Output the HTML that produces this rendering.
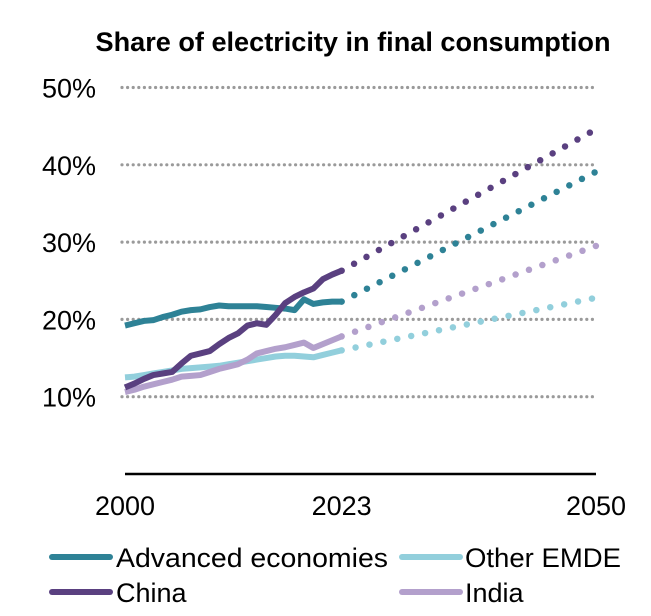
<!DOCTYPE html>
<html><head><meta charset="utf-8"><style>
html,body{margin:0;padding:0;background:#fff;}
svg{display:block;font-family:"Liberation Sans",sans-serif;}
</style></head><body>
<svg width="651" height="616" viewBox="0 0 651 616">
<text x="353" y="51" text-anchor="middle" font-size="26.5" font-weight="bold" fill="#000" textLength="515" lengthAdjust="spacingAndGlyphs">Share of electricity in final consumption</text>
<g id="grid"></g>
<g id="yticks"></g>
<line x1="125" y1="474" x2="596" y2="474" stroke="#000" stroke-width="2.5"/>
<g id="xticks"></g>
<g id="series"></g>
<g font-size="27" fill="#000">
<line x1="52" y1="557" x2="110" y2="557" stroke="#2e8296" stroke-width="6" stroke-linecap="round"/>
<text x="116" y="567" textLength="272" lengthAdjust="spacingAndGlyphs">Advanced economies</text>
<line x1="402" y1="557" x2="460" y2="557" stroke="#92cfdc" stroke-width="6" stroke-linecap="round"/>
<text x="465" y="567" textLength="156" lengthAdjust="spacingAndGlyphs">Other EMDE</text>
<line x1="52" y1="592" x2="110" y2="592" stroke="#5a4080" stroke-width="6" stroke-linecap="round"/>
<text x="116" y="602">China</text>
<line x1="402" y1="592" x2="460" y2="592" stroke="#b3a0cc" stroke-width="6" stroke-linecap="round"/>
<text x="465" y="602">India</text>
</g>
</svg>
<script>
const years = [];
for (let y = 2000; y <= 2023; y++) years.push(y);
const advanced = [19.2,19.5,19.8,19.9,20.3,20.6,21.0,21.2,21.3,21.6,21.8,21.7,21.7,21.7,21.7,21.6,21.5,21.4,21.2,22.6,22.0,22.2,22.3,22.3];
const china = [11.2,11.7,12.3,12.8,13.0,13.2,14.3,15.3,15.6,15.9,16.8,17.6,18.2,19.2,19.5,19.3,20.6,22.1,22.9,23.5,24.0,25.2,25.8,26.3];
const emde = [12.5,12.6,12.8,13.0,13.2,13.4,13.6,13.7,13.8,13.9,14.0,14.2,14.4,14.6,14.8,15.0,15.2,15.3,15.3,15.2,15.1,15.4,15.7,16.0];
const india = [10.6,10.9,11.3,11.6,11.9,12.2,12.6,12.7,12.8,13.2,13.6,13.9,14.2,14.8,15.6,15.9,16.2,16.4,16.7,17.0,16.3,16.8,17.3,17.8];
const projYears = [2023, 2050];
const advancedProj = [22.3, 39.1];
const chinaProj = [26.3, 44.6];
const emdeProj = [16.0, 22.8];
const indiaProj = [17.8, 29.5];
const yTicks = [10, 20, 30, 40, 50];
const yTickLabels = ["10%","20%","30%","40%","50%"];
const xTicks = [2000, 2023, 2050];
const xTickLabels = ["2000","2023","2050"];

const NS = "http://www.w3.org/2000/svg";
const xS = y => 125 + (y - 2000) * (471 / 50);
const yS = v => 474 - v * 7.73;

const grid = document.getElementById('grid');
const yt = document.getElementById('yticks');
yTicks.forEach((t, i) => {
  const l = document.createElementNS(NS, 'line');
  l.setAttribute('x1', 122); l.setAttribute('x2', 596);
  l.setAttribute('y1', yS(t)); l.setAttribute('y2', yS(t));
  l.setAttribute('stroke', '#9a9a9a'); l.setAttribute('stroke-width', 3.2);
  l.setAttribute('stroke-dasharray', '0 5.6'); l.setAttribute('stroke-linecap', 'round');
  
  
  grid.appendChild(l);
  const tx = document.createElementNS(NS, 'text');
  tx.setAttribute('x', 96); tx.setAttribute('y', yS(t) + 10);
  tx.setAttribute('text-anchor', 'end'); tx.setAttribute('font-size', '27');
  tx.textContent = yTickLabels[i];
  
  
  yt.appendChild(tx);
});
const xt = document.getElementById('xticks');
xTicks.forEach((t, i) => {
  const tx = document.createElementNS(NS, 'text');
  tx.setAttribute('x', xS(t)); tx.setAttribute('y', 515);
  tx.setAttribute('text-anchor', 'middle'); tx.setAttribute('font-size', '27');
  tx.textContent = xTickLabels[i];
  
  
  xt.appendChild(tx);
});

const sg = document.getElementById('series');
function drawProj(vals, color, name) {
  const p = document.createElementNS(NS, 'polyline');
  p.setAttribute('points', projYears.map((y, i) => xS(y) + ',' + yS(vals[i])).join(' '));
  p.setAttribute('fill', 'none'); p.setAttribute('stroke', color);
  p.setAttribute('stroke-width', 6.5); p.setAttribute('stroke-linecap', 'round');
  p.setAttribute('stroke-dasharray', '0 14.2'); p.setAttribute('stroke-dashoffset', '-14.2');
  
  
  sg.appendChild(p);
}
function drawLine(vals, color, name) {
  const p = document.createElementNS(NS, 'polyline');
  p.setAttribute('points', years.map((y, i) => xS(y) + ',' + yS(vals[i])).join(' '));
  p.setAttribute('fill', 'none'); p.setAttribute('stroke', color);
  p.setAttribute('stroke-width', 6); p.setAttribute('stroke-linejoin', 'round');
  
  
  sg.appendChild(p);
}
drawProj(emdeProj, '#92cfdc', 'emde-projection');
drawProj(indiaProj, '#b3a0cc', 'india-projection');
drawProj(advancedProj, '#2e8296', 'advanced-projection');
drawProj(chinaProj, '#5a4080', 'china-projection');
drawLine(emde, '#92cfdc', 'emde-line');
drawLine(india, '#b3a0cc', 'india-line');
drawLine(advanced, '#2e8296', 'advanced-line');
drawLine(china, '#5a4080', 'china-line');
</script>
</body></html>
